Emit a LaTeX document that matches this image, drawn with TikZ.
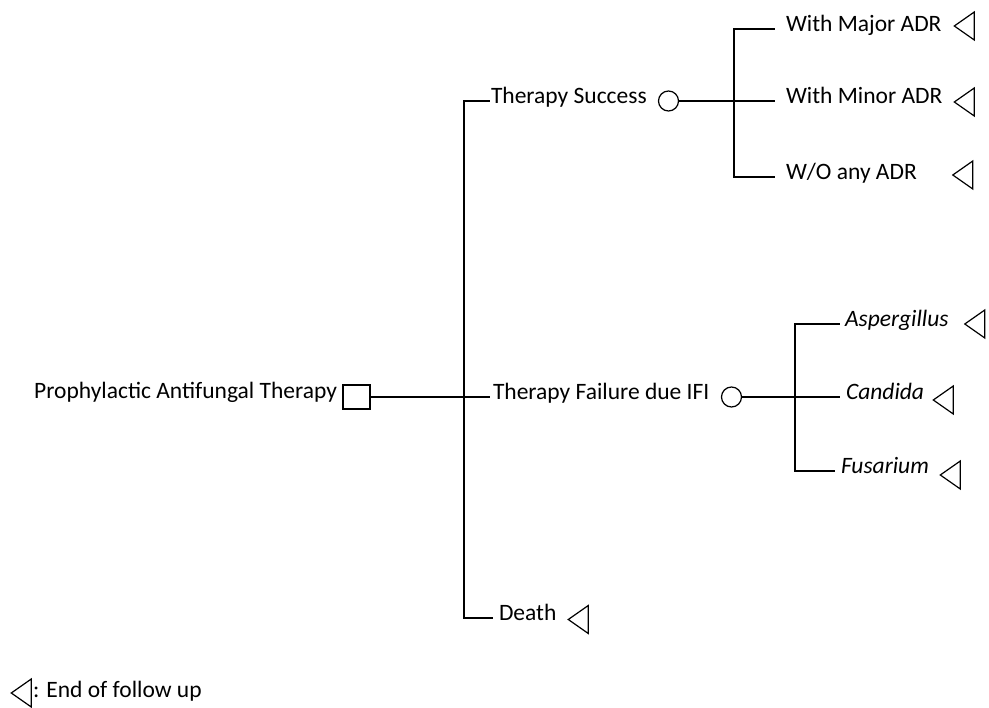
\documentclass[tikz,border=0pt]{standalone}
\usepackage{fontspec}
\setmainfont{Carlito}
\usetikzlibrary{shapes.geometric}

\tikzset{
  lbl/.style={anchor=south west, inner sep=0pt, outer xsep=0pt, outer ysep=-3pt,
    text depth=0pt, font=\fontsize{23.5}{28}\selectfont},
  decbox/.style={draw, rectangle, minimum width=27pt, minimum height=24pt, inner sep=0pt},
  chance/.style={draw, circle, minimum size=20pt, inner sep=0pt},
  endtri/.style={draw, isosceles triangle, shape border rotate=180,
    isosceles triangle stretches, minimum width=28pt, minimum height=20pt, inner sep=0pt}
}

\begin{document}
\begin{tikzpicture}[x=1pt, y=-1pt, line width=1.2pt]
    \useasboundingbox (0,0) rectangle (989,708);
    \node[lbl, anchor=south east] (root) at (337,396) {Prophylactic Antifungal Therapy};
    \node[decbox] (dec) at (356.5,397) {};
    \coordinate (jroot) at (464,397);
    \node[lbl] (succ) at (491,101) {Therapy Success};
    \node[lbl] (fail) at (493,397) {Therapy Failure due IFI};
    \node[lbl] (death) at (499,618) {Death};
    \node[endtri] (tdeath) at (581,619.5) {};
    \draw[shorten >=3.5pt] (dec.east) -- (fail.south west);
    \draw[shorten >=1.5pt] (jroot) |- (succ.south west);
    \draw[shorten >=6pt] (jroot) |- (death.south west);
    % success branch
    \node[chance] (csucc) at (668.5,101) {};
    \coordinate (jsucc) at (734,101);
    \node[lbl] (maj) at (786,29) {With Major ADR};
    \node[lbl] (min) at (786,101) {With Minor ADR};
    \node[lbl] (wo) at (786,177) {W/O any ADR};
    \node[endtri] (tmaj) at (967,26) {};
    \node[endtri] (tmin) at (967,102) {};
    \node[endtri] (two) at (965.5,175) {};
    \draw[shorten >=11pt] (csucc.east) -- (min.south west);
    \draw[shorten >=11pt] (jsucc) |- (maj.south west);
    \draw[shorten >=11pt] (jsucc) |- (wo.south west);
    % failure branch
    \node[chance] (cfail) at (731.5,397) {};
    \coordinate (jfail) at (795,397);
    \node[lbl, font=\fontsize{23.5}{28}\selectfont\itshape] (asp) at (845,324) {Aspergillus};
    \node[lbl, font=\fontsize{23.5}{28}\selectfont\itshape] (cand) at (846,397) {Candida};
    \node[lbl, font=\fontsize{23.5}{28}\selectfont\itshape] (fus) at (841,471) {Fusarium};
    \node[endtri] (tasp) at (977.5,324) {};
    \node[endtri] (tcand) at (946,400) {};
    \node[endtri] (tfus) at (953,475) {};
    \draw[shorten >=6pt] (cfail.east) -- (cand.south west);
    \draw[shorten >=5pt] (jfail) |- (asp.south west);
    \draw[shorten >=6pt] (jfail) |- (fus.south west);
    % key
    \node[endtri] (tkey) at (24,693) {};
    \node[lbl] (key) at (33,694) {: End of follow up};
\end{tikzpicture}
\end{document}
